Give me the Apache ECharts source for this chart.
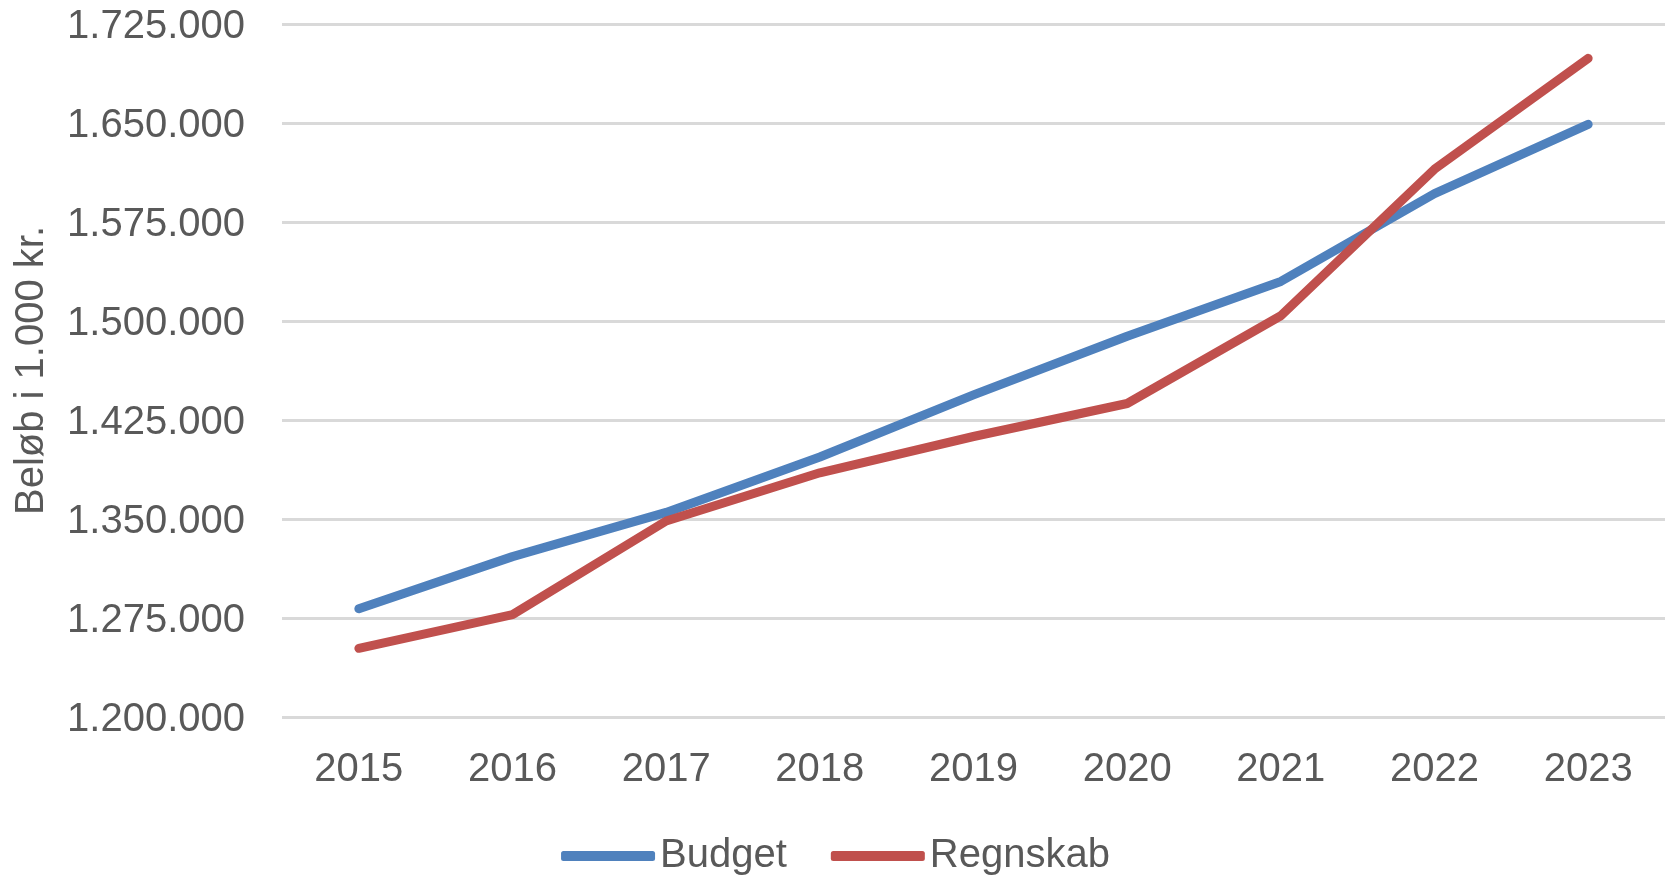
<!DOCTYPE html>
<html>
<head>
<meta charset="utf-8">
<script src="https://cdn.jsdelivr.net/npm/echarts@6/dist/echarts.min.js"></script>
<style>
html,body{margin:0;padding:0;background:#fff;}
#main{width:1671px;height:877px;}
</style>
</head>
<body>
<div id="main"></div>
<script>
var years = ['2015','2016','2017','2018','2019','2020','2021','2022','2023'];
var budget = [1282000,1321500,1355000,1397000,1444000,1488500,1530000,1596500,1649000];
var regnskab = [1252000,1277500,1348500,1385000,1412500,1437500,1504000,1615000,1699000];
var yMin = 1200000, yMax = 1725000, yStep = 75000;

// tal med punktum som tusindtalsseparator
function fmt(v){
    return '{a|' + String(v).replace(/\B(?=(\d{3})+(?!\d))/g,'.') + '}';
}

var txt = '#595959';
var font = 'Liberation Sans, Arial, sans-serif';

var myChart = echarts.init(document.getElementById('main'));
var option = {
    animation: false,
    textStyle: { fontFamily: font },
    grid: { left: 282, right: 6, top: 24, bottom: 160 },
    legend: {
        top: 831,
        left: 'center',
        itemWidth: 94,
        itemHeight: 10,
        itemGap: 44,
        textStyle: { color: txt, fontSize: 40, fontFamily: font },
        data: [
            { name: 'Budget', icon: 'roundRect' },
            { name: 'Regnskab', icon: 'roundRect' }
        ]
    },
    xAxis: {
        type: 'category',
        data: years,
        boundaryGap: true,
        axisLine: { show: false },
        axisTick: { show: false },
        axisLabel: { color: txt, fontSize: 40, margin: 33, fontFamily: font }
    },
    yAxis: {
        type: 'value',
        min: yMin,
        max: yMax,
        interval: yStep,
        name: 'Beløb i 1.000 kr.',
        nameLocation: 'middle',
        nameGap: 230,
        nameTextStyle: { color: txt, fontSize: 40, fontFamily: font },
        axisLine: { show: false },
        axisTick: { show: false },
        axisLabel: {
            color: txt, fontSize: 40, margin: 37, fontFamily: font, formatter: fmt,
            rich: { a: { color: txt, fontSize: 40, fontFamily: font, padding: [6,0,0,0] } }
        },
        splitLine: { lineStyle: { color: '#d9d9d9', width: 3 } }
    },
    series: [
        {
            name: 'Budget',
            type: 'line',
            data: budget,
            symbol: 'none',
            color: '#4f81bd',
            lineStyle: { width: 9, color: '#4f81bd', cap: 'round', join: 'round' }
        },
        {
            name: 'Regnskab',
            type: 'line',
            data: regnskab,
            symbol: 'none',
            color: '#c0504d',
            lineStyle: { width: 9, color: '#c0504d', cap: 'round', join: 'round' }
        }
    ]
};
myChart.setOption(option);
</script>
</body>
</html>
